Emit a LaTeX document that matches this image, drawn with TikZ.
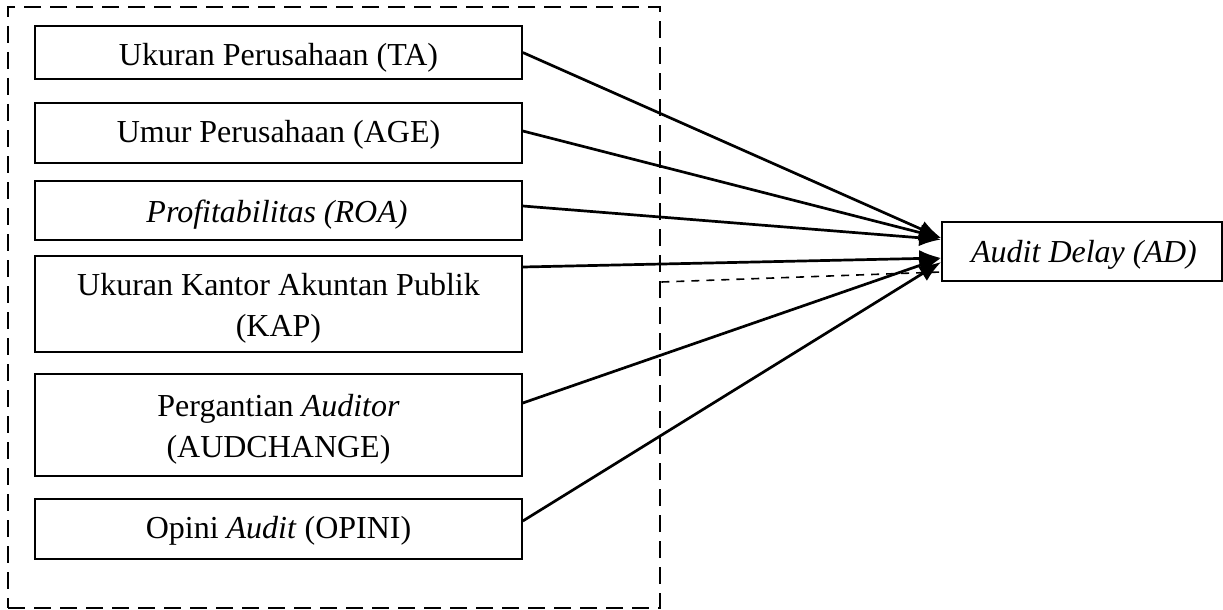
\documentclass[tikz,border=0pt]{standalone}
\usepackage{fontspec}
\setmainfont{Liberation Serif}
\usetikzlibrary{arrows.meta,calc}
\begin{document}
\begin{tikzpicture}[x=1pt,y=-1pt,
  box/.style={draw, line width=1.6pt, inner sep=0pt, minimum width=487pt},
  txt/.style={inner sep=0pt, align=center, font=\fontsize{32}{41}\selectfont},
  group/.style={draw, line width=2.6pt, dash pattern=on 17pt off 9pt, inner sep=0pt},
  conn/.style={line width=2.7pt, -{Latex[length=22pt,width=17pt]}},
  link/.style={line width=1.6pt, dash pattern=on 8pt off 7pt}]
\useasboundingbox (0,0) rectangle (1223,610);
\node[group, minimum width=652pt, minimum height=601pt] (grp) at (334,307.5) {};
% boxes
\node[box, minimum height=53pt] (ta) at (278.5,52.5) {};
\node[box, minimum height=60pt] (age) at (278.5,133) {};
\node[box, minimum height=59pt] (roa) at (278.5,210.5) {};
\node[box, minimum height=96pt] (kap) at (278.5,304) {};
\node[box, minimum height=102pt] (aud) at (278.5,425) {};
\node[box, minimum height=60pt] (op) at (278.5,529) {};
\node[box, minimum width=280pt, minimum height=59pt] (ad) at (1082,251.5) {};
% texts
\node[txt, anchor=base] (taT) at (278.5,66) {Ukuran Perusahaan (TA)};
\node[txt, anchor=base] (ageT) at (278.5,142) {Umur Perusahaan (AGE)};
\node[txt, anchor=base] (roaT) at (277,222) {\textit{Profitabilitas (ROA)}};
\node[txt] (kapT) at (278.5,308) {Ukuran Kantor Akuntan Publik\\(KAP)};
\node[txt] (audT) at (278.5,429) {Pergantian \textit{Auditor}\\(AUDCHANGE)};
\node[txt, anchor=base] (opT) at (278.5,538) {Opini \textit{Audit} (OPINI)};
\node[txt, anchor=base] (adT) at (1084,262) {\textit{Audit Delay (AD)}};
% connectors
\draw[conn] (ta.east) -- ([yshift=13.5pt]ad.west);
\draw[conn] ([yshift=2pt]age.east) -- ([yshift=13.5pt]ad.west);
\draw[conn] ([yshift=4.5pt]roa.east) -- ([yshift=12pt]ad.west);
\draw[conn] ([yshift=37pt]kap.east) -- ([yshift=-6.5pt]ad.west);
\draw[conn] ([yshift=22pt]aud.east) -- ([yshift=-6.5pt]ad.west);
\draw[conn] ([yshift=8pt]op.east) -- ([yshift=-10.5pt]ad.west);
\draw[link] ([yshift=25.5pt]grp.east) -- ([yshift=-20.5pt]ad.west);
\end{tikzpicture}
\end{document}
